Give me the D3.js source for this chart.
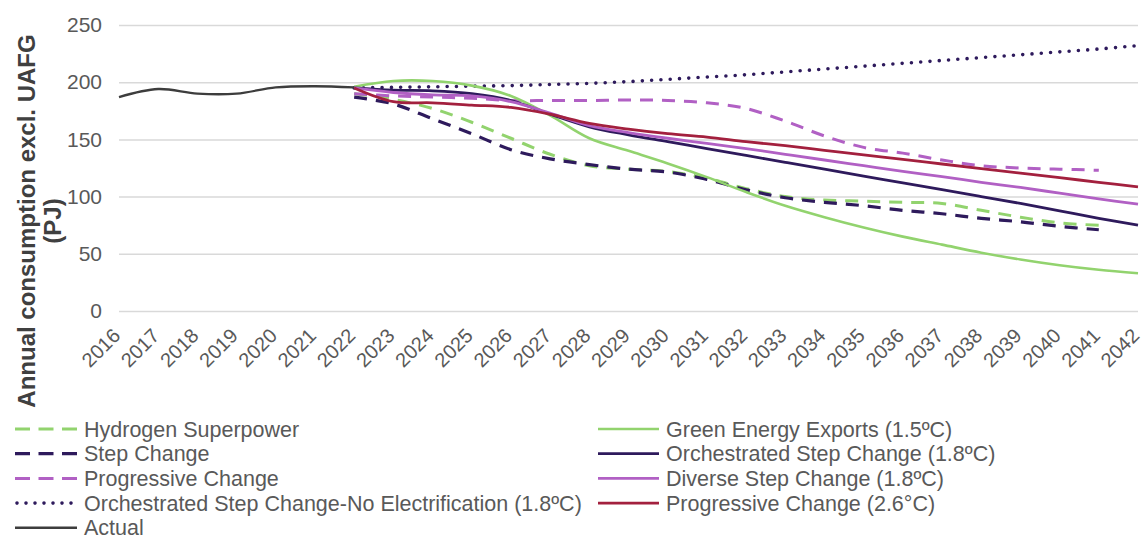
<!DOCTYPE html>
<html>
<head>
<meta charset="utf-8">
<script src="https://cdn.jsdelivr.net/npm/d3@7"></script>
<style>
  html, body { margin: 0; padding: 0; background: #ffffff; }
  svg { display: block; }
  text { font-family: "Liberation Sans", Arial, sans-serif; }
</style>
</head>
<body>
<svg id="chart" width="1144" height="540"></svg>
<script>
// ---------------- DATA ----------------
const years = d3.range(2016, 2043).map(String);           // 2016 .. 2042
const actualYears = years.slice(0, 7);                    // 2016 .. 2022
const projYears = years.slice(6);                         // 2022 .. 2042
const yTicks = [0, 50, 100, 150, 200, 250];

const actual = [187, 194, 190, 190, 195.5, 196.5, 195.5];

// dashed scenarios (2022 .. 2041)
const hydrogenSuperpower = [190, 185, 177, 165, 151, 137, 127, 124, 122, 116, 107, 100, 97, 96, 95, 94, 88, 82, 77, 75];
const stepChange        = [187, 181, 168, 155, 141, 133, 128, 124, 121.5, 115, 106, 99, 95, 92, 88, 85, 81, 78, 74, 71];
const progressiveChange = [190, 188, 187, 186, 184, 184, 184, 184.5, 184, 182, 177, 166, 153, 143, 138, 132, 127, 125, 124, 123];

// dotted + solid scenarios (2022 .. 2042)
const oscNoElec   = [195, 195.5, 196, 196.5, 197, 198, 199, 200.5, 202.5, 204.5, 206.5, 209, 211.5, 214, 216.5, 219, 221.5, 224, 226.5, 229, 232];
const greenEnergy = [196, 201, 201, 197, 188, 171, 151, 140, 129, 117, 104, 92, 82, 73, 65, 58, 51, 45, 40, 36, 33];
const orchestrated = [195, 193, 192.5, 190, 184, 172, 161, 154, 148, 142, 136, 130, 124, 118, 112, 106, 100, 94, 87.5, 81, 75];
const diverse     = [195, 191, 189, 188, 183, 173, 162, 156, 151, 146.5, 142, 137, 132, 127, 122, 117.5, 112.5, 108, 103, 98, 93.5];
const progressive26 = [195, 183, 182, 180, 178, 172, 164, 159, 155, 152, 148, 144.5, 140.5, 136.5, 132.5, 128.5, 124.5, 120.5, 116.5, 112.5, 108.5];

const seriesNames = [
  "Hydrogen Superpower",
  "Step Change",
  "Progressive Change",
  "Orchestrated Step Change-No Electrification (1.8ºC)",
  "Actual",
  "Green Energy Exports (1.5ºC)",
  "Orchestrated Step Change (1.8ºC)",
  "Diverse Step Change (1.8ºC)",
  "Progressive Change (2.6°C)"
];
const seriesValues = [hydrogenSuperpower, stepChange, progressiveChange, oscNoElec, actual,
                      greenEnergy, orchestrated, diverse, progressive26];
const seriesYears = [projYears, projYears, projYears, projYears, actualYears,
                     projYears, projYears, projYears, projYears];

// ---------------- STYLES ----------------
const C_GREEN = "#92d36e", C_DARK = "#2e1a5c", C_PINK = "#b160c4", C_RED = "#a3203e", C_ACT = "#3d3d3d";
const styles = [
  { color: C_GREEN, width: 3, dash: "13 9", cap: "butt" },
  { color: C_DARK,  width: 3.2, dash: "13 9", cap: "butt" },
  { color: C_PINK,  width: 3, dash: "13 9", cap: "butt" },
  { color: C_DARK,  width: 3.6, dash: "0 9.3", cap: "round" },
  { color: C_ACT,   width: 2.4, dash: null, cap: "butt" },
  { color: C_GREEN, width: 2.6, dash: null, cap: "butt" },
  { color: C_DARK,  width: 2.8, dash: null, cap: "butt" },
  { color: C_PINK,  width: 2.8, dash: null, cap: "butt" },
  { color: C_RED,   width: 2.8, dash: null, cap: "butt" }
];
const drawOrder = [0, 1, 2, 3, 5, 6, 7, 8, 4];

// ---------------- LAYOUT ----------------
const svg = d3.select("#chart");
const plot = { left: 119, right: 1138, top: 25, bottom: 311 };
const x = d3.scalePoint().domain(years).range([plot.left, plot.right]);
const y = d3.scaleLinear().domain([0, 250]).range([plot.bottom, plot.top]);
const textColor = "#595959";

// gridlines + y labels
const yAxis = svg.append("g")
  .attr("transform", `translate(${plot.left},0)`)
  .call(d3.axisLeft(y).tickValues(yTicks).tickSize(-(plot.right - plot.left)).tickPadding(17));
yAxis.select(".domain").remove();
yAxis.selectAll(".tick line").attr("stroke", "#d9d9d9").attr("stroke-width", 1.5);
yAxis.selectAll(".tick text")
  .attr("fill", textColor).style("font-size", "21px");

// x labels
const xAxis = svg.append("g")
  .attr("transform", `translate(0,${plot.bottom})`)
  .call(d3.axisBottom(x).tickSize(0).tickPadding(0));
xAxis.select(".domain").remove();
xAxis.selectAll(".tick text")
  .attr("fill", textColor).style("font-size", "20px")
  .attr("text-anchor", "end")
  .attr("dy", null).attr("y", 0)
  .attr("transform", "translate(2,26) rotate(-45)");

// y axis title
const title = svg.append("text")
  .attr("transform", "translate(27,221) rotate(-90)")
  .attr("text-anchor", "middle")
  .attr("fill", "#404040").style("font-size", "24px").style("font-weight", "bold");
title.append("tspan").attr("x", 0).attr("dy", "0.35em").text("Annual consumption excl. UAFG");
title.append("tspan").attr("x", 0).attr("dy", "1.05em").text("(PJ)");

// lines
const line = d3.line().curve(d3.curveCatmullRom.alpha(0.5));
const linesG = svg.append("g");
drawOrder.forEach(i => {
  const pts = seriesValues[i].map((v, k) => [x(seriesYears[i][k]), y(v)]);
  const st = styles[i];
  linesG.append("path")
    .attr("d", line(pts))
    .attr("fill", "none")
    .attr("stroke", st.color)
    .attr("stroke-width", st.width)
    .attr("stroke-linecap", st.cap)
    .attr("stroke-dasharray", st.dash);
});

// legend
const legendCols = [
  { items: [0, 1, 2, 3, 4], x0: 15, x1: 77, tx: 84 },
  { items: [5, 6, 7, 8], x0: 598, x1: 659, tx: 666 }
];
const rowY0 = 429, rowStep = 24.7;
const legend = svg.append("g");
legendCols.forEach(col => {
  col.items.forEach((i, r) => {
    const yy = rowY0 + r * rowStep;
    const st = styles[i];
    legend.append("line")
      .attr("x1", col.x0 + (st.cap === "round" ? 2 : 0)).attr("x2", col.x1)
      .attr("y1", yy).attr("y2", yy)
      .attr("stroke", st.color).attr("stroke-width", st.width)
      .attr("stroke-linecap", st.cap)
      .attr("stroke-dasharray", st.dash ? (st.cap === "round" ? "0 9" : "15 8.5") : null);
    legend.append("text")
      .attr("x", col.tx).attr("y", yy).attr("dy", "0.35em")
      .attr("fill", textColor).style("font-size", "21.5px")
      .text(seriesNames[i]);
  });
});
</script>
</body>
</html>
